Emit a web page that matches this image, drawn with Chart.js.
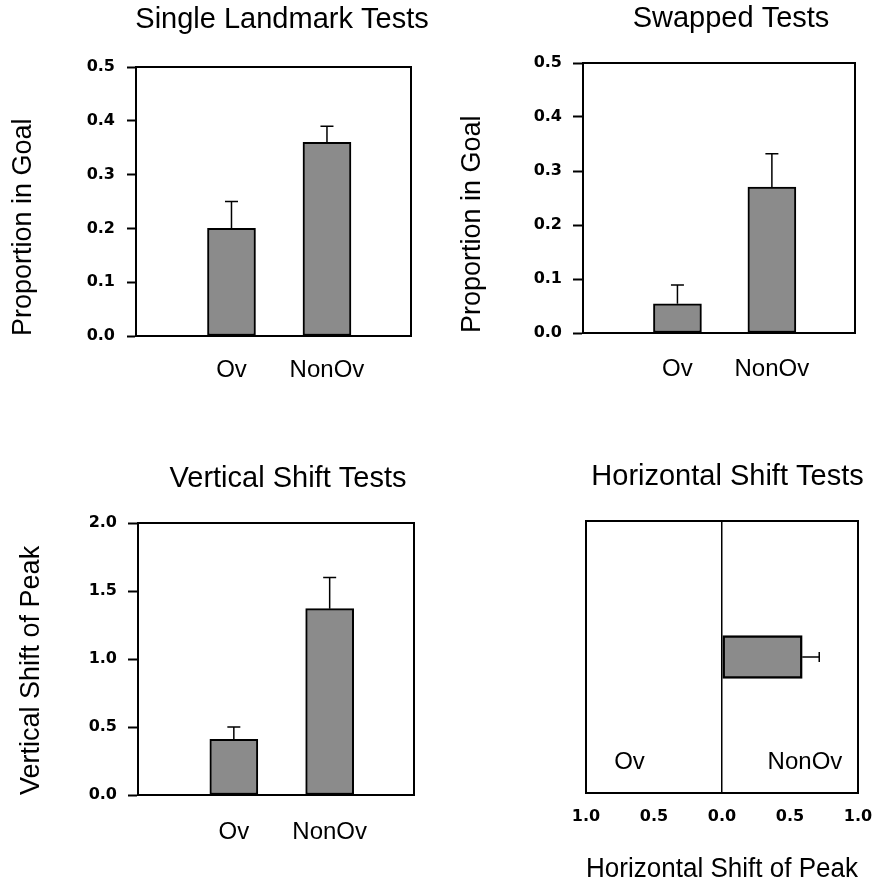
<!DOCTYPE html>
<html>
<head>
<meta charset="utf-8">
<script src="https://cdn.jsdelivr.net/npm/chart.js@4.4.0/dist/chart.umd.min.js"></script>
<style>
  html, body { margin: 0; padding: 0; background: #ffffff; width: 875px; height: 884px; overflow: hidden; position: relative; }
  canvas { position: absolute; }
</style>
</head>
<body>
<canvas id="single"></canvas>
<canvas id="swapped"></canvas>
<canvas id="vertical"></canvas>
<canvas id="horizontal"></canvas>
<script>
// ---------------- data ----------------
const categories = ['Ov', 'NonOv'];

const singleLandmarkMeans  = [0.20, 0.36];
const singleLandmarkErrors = [0.05, 0.03];

const swappedMeans  = [0.054, 0.27];
const swappedErrors = [0.035, 0.062];

const verticalShiftMeans  = [0.41, 1.37];
const verticalShiftErrors = [0.09, 0.23];

const horizontalShiftGroup  = ['NonOv'];
const horizontalShiftMeans  = [0.59];
const horizontalShiftErrors = [0.125];
const horizontalRegionLabels = ['Ov', 'NonOv'];

const proportionTicks      = [0, 0.1, 0.2, 0.3, 0.4, 0.5];
const verticalShiftTicks   = [0, 0.5, 1.0, 1.5, 2.0];
const horizontalShiftTicks = [-1, -0.5, 0, 0.5, 1];

// ---------------- styles ----------------
const BLACK = '#000000';
const BAR_FILL = '#8b8b8b';
const TEXT_FONT = "'Liberation Sans', Arial, Helvetica, sans-serif";
const TICK_FONT = "'DejaVu Sans', 'Liberation Sans', sans-serif";

const errorBarPlugin = {
  id: 'errorBars',
  afterDatasetsDraw(chart, args, opts) {
    const errs = opts.errors || [];
    const horizontal = chart.options.indexAxis === 'y';
    const meta = chart.getDatasetMeta(0);
    const valueScale = horizontal ? chart.scales.x : chart.scales.y;
    const ctx = chart.ctx;
    const half = opts.capSize / 2;
    ctx.save();
    ctx.strokeStyle = BLACK;
    ctx.lineWidth = opts.lineWidth;
    meta.data.forEach((bar, i) => {
      const parsed = meta.controller.getParsed(i);
      const v = horizontal ? parsed.x : parsed.y;
      const end = valueScale.getPixelForValue(v + errs[i]);
      ctx.beginPath();
      if (horizontal) {
        ctx.moveTo(bar.x, bar.y); ctx.lineTo(end, bar.y);
        ctx.moveTo(end, bar.y - half); ctx.lineTo(end, bar.y + half);
      } else {
        ctx.moveTo(bar.x, bar.y); ctx.lineTo(bar.x, end);
        ctx.moveTo(bar.x - half, end); ctx.lineTo(bar.x + half, end);
      }
      ctx.stroke();
    });
    ctx.restore();
  }
};

function place(canvas, box) {
  canvas.width = box.w; canvas.height = box.h;
  canvas.style.left = box.x + 'px'; canvas.style.top = box.y + 'px';
  canvas.style.width = box.w + 'px'; canvas.style.height = box.h + 'px';
}

function frameTop() {
  return { type: 'linear', position: 'top', min: 0, max: 1,
    grid: { display: false }, ticks: { display: false },
    border: { display: true, color: BLACK, width: 2 },
    afterFit: s => { s.height = 0; } };
}
function frameRight(w) {
  return { type: 'linear', position: 'right', min: 0, max: 1,
    grid: { display: false }, ticks: { display: false },
    border: { display: true, color: BLACK, width: 2 },
    afterFit: s => { s.width = w; } };
}
function titleOpts(text, top, bottom) {
  return { display: true, text: text, color: BLACK, fullSize: true,
    font: { family: TEXT_FONT, size: 29, weight: 'normal', lineHeight: 1 },
    padding: { top: top, bottom: bottom } };
}

function verticalPanel(id, cfg) {
  const canvas = document.getElementById(id);
  place(canvas, cfg.box);
  return new Chart(canvas, {
    type: 'bar',
    data: {
      datasets: [{
        data: cfg.means.map((m, i) => ({ x: i + 1, y: m })),
        backgroundColor: BAR_FILL, borderColor: BLACK, borderWidth: 2,
        borderSkipped: false, barThickness: 48, xAxisID: 'x', yAxisID: 'y'
      }]
    },
    options: {
      responsive: false, animation: false, devicePixelRatio: 1, events: [],
      layout: { padding: 0 },
      plugins: {
        legend: { display: false }, tooltip: { enabled: false },
        title: titleOpts(cfg.title, cfg.titleTop, cfg.titleBottom),
        errorBars: { errors: cfg.errors, capSize: 13, lineWidth: 1.5 }
      },
      scales: {
        x: {
          type: 'linear', position: 'bottom', min: 0, max: 2.88, offset: false,
          afterBuildTicks: s => { s.ticks = categories.map((c, i) => ({ value: i + 1 })); },
          afterFit: s => { s.height = cfg.xHeight; },
          grid: { display: false, offset: false },
          border: { display: true, color: BLACK, width: 2 },
          ticks: { color: BLACK, padding: cfg.catPad, maxRotation: 0, autoSkip: false,
            font: { family: TEXT_FONT, size: 24, weight: 'normal', lineHeight: 1.2 },
            callback: (v, i) => categories[i] }
        },
        y: {
          type: 'linear', position: 'left', min: cfg.yMin, max: cfg.yMax,
          afterBuildTicks: s => { s.ticks = cfg.yTicks.map(v => ({ value: v })); },
          afterFit: s => { s.width = cfg.leftW; },
          grid: { display: true, drawOnChartArea: false, drawTicks: true, tickLength: cfg.tickLen,
            tickColor: BLACK, tickWidth: 2, color: BLACK },
          border: { display: true, color: BLACK, width: 2 },
          ticks: { color: BLACK, padding: cfg.tickPad, autoSkip: false,
            font: { family: TICK_FONT, size: 16, weight: 'bold', lineHeight: 1.2 },
            callback: v => Number(v).toFixed(1) },
          title: { display: true, text: cfg.yTitle, color: BLACK, align: 'start',
            font: { family: TEXT_FONT, size: 27, weight: 'normal', lineHeight: 1 },
            padding: { top: cfg.yTitlePad, bottom: 0 } }
        },
        xTop: frameTop(),
        yRight: frameRight(cfg.rightW)
      }
    },
    plugins: [errorBarPlugin]
  });
}

verticalPanel('single', {
  box: { x: 0, y: 0, w: 564, h: 420 },
  title: 'Single Landmark Tests', titleTop: 5.5, titleBottom: 32.5,
  means: singleLandmarkMeans, errors: singleLandmarkErrors,
  yMin: 0, yMax: 0.5, yTicks: proportionTicks, yTitle: 'Proportion in Goal',
  leftW: 136, rightW: 153, xHeight: 84, catPad: 11.6, tickLen: 9, tickPad: 12, yTitlePad: 10.5
});

verticalPanel('swapped', {
  box: { x: 440, y: 0, w: 582, h: 420 },
  title: 'Swapped Tests', titleTop: 4.5, titleBottom: 29.5,
  means: swappedMeans, errors: swappedErrors,
  yMin: 0, yMax: 0.5, yTicks: proportionTicks, yTitle: 'Proportion in Goal',
  leftW: 143, rightW: 167, xHeight: 87, catPad: 14.3, tickLen: 10, tickPad: 11, yTitlePad: 19.5
});

verticalPanel('vertical', {
  box: { x: 0, y: 440, w: 576, h: 444 },
  title: 'Vertical Shift Tests', titleTop: 24.5, titleBottom: 29.5,
  means: verticalShiftMeans, errors: verticalShiftErrors,
  yMin: 0, yMax: 2, yTicks: verticalShiftTicks, yTitle: 'Vertical Shift of Peak',
  leftW: 138, rightW: 162, xHeight: 89, catPad: 15.3, tickLen: 10, tickPad: 11, yTitlePad: 18
});

// ---------------- horizontal shift panel ----------------
(function () {
  const canvas = document.getElementById('horizontal');
  place(canvas, { x: 540, y: 440, w: 375, h: 444 });
  const regionAnchors = [-0.68, 0.61];
  new Chart(canvas, {
    type: 'bar',
    data: {
      labels: horizontalShiftGroup,
      datasets: [{
        data: horizontalShiftMeans,
        backgroundColor: BAR_FILL, borderColor: BLACK, borderWidth: 2.5,
        borderSkipped: false, barThickness: 43, xAxisID: 'x', yAxisID: 'y'
      }]
    },
    options: {
      indexAxis: 'y',
      responsive: false, animation: false, devicePixelRatio: 1, events: [],
      layout: { padding: 0 },
      plugins: {
        legend: { display: false }, tooltip: { enabled: false },
        title: titleOpts('Horizontal Shift Tests', 22.5, 29.5),
        errorBars: { errors: horizontalShiftErrors, capSize: 10, lineWidth: 1.5 }
      },
      scales: {
        x: {
          type: 'linear', position: 'bottom', min: -1, max: 1,
          afterBuildTicks: s => { s.ticks = horizontalShiftTicks.map(v => ({ value: v })); },
          afterFit: s => { s.height = 91; },
          grid: { display: true, drawOnChartArea: true, drawTicks: false, lineWidth: 1.5,
            color: c => (c.tick && c.tick.value === 0) ? BLACK : 'rgba(0,0,0,0)' },
          border: { display: true, color: BLACK, width: 2 },
          ticks: { color: BLACK, padding: 14.4, maxRotation: 0, autoSkip: false,
            font: { family: TICK_FONT, size: 16, weight: 'bold', lineHeight: 1.2 },
            callback: v => Math.abs(v).toFixed(1) },
          title: { display: true, text: 'Horizontal Shift of Peak', color: BLACK,
            font: { family: TEXT_FONT, size: 27, weight: 'normal', lineHeight: 1 },
            padding: { top: 0, bottom: 0.5 } }
        },
        xRegion: {
          type: 'linear', position: 'bottom', weight: -1, min: -1, max: 1,
          afterBuildTicks: s => { s.ticks = regionAnchors.map(v => ({ value: v })); },
          afterFit: s => { s.height = 0; },
          grid: { display: false }, border: { display: false },
          ticks: { mirror: true, padding: 16.1, color: BLACK, maxRotation: 0, autoSkip: false,
            font: { family: TEXT_FONT, size: 24, weight: 'normal', lineHeight: 1.2 },
            callback: (v, i) => horizontalRegionLabels[i] }
        },
        y: {
          type: 'category', position: 'left', offset: true,
          grid: { display: false }, ticks: { display: false },
          border: { display: true, color: BLACK, width: 2 },
          afterFit: s => { s.width = 46; }
        },
        xTop: frameTop(),
        yRight: frameRight(57)
      }
    },
    plugins: [errorBarPlugin]
  });
})();
</script>
</body>
</html>
